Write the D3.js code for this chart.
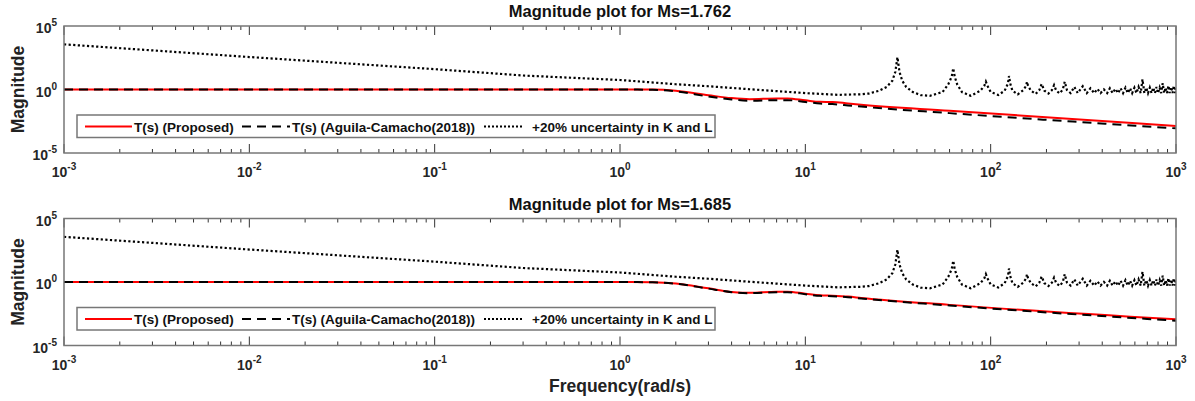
<!DOCTYPE html>
<html lang="en">
<head>
<meta charset="utf-8">
<title>Magnitude plots</title>
<script src="https://d3js.org/d3.v7.min.js"></script>
<style>
    body{
        margin: 0;
        background: #fff;
    }
    text{
        font-family: "Liberation Sans", Arial, sans-serif;
        font-weight: bold;
        fill: #262626;
    }
    .tick-label{
        font-size: 14px;
    }
    .tick-label tspan.sup{
        font-size: 10px;
    }
    .title{
        font-size: 16.5px;
        fill: #111;
    }
    .axis-title{
        font-size: 17.5px;
        fill: #222;
    }
    .legend text{
        font-size: 13.5px;
        fill: #111;
    }
</style>
</head>
<body>
<div id="chart"></div>
<script>

// frequency ticks and magnitude ticks
var xTicks = [1e-3, 1e-2, 1e-1, 1, 10, 100, 1000]
var yTicks = [1e-5, 1, 1e5]

// +20% uncertainty response (same shape)
var uncFreq = [0.001, 0.01, 0.1, 0.3, 1, 2, 3, 5, 10, 15, 20, 22, 25, 27.5, 29.5, 30.6, 31.4, 32.2, 33.3, 35, 38, 42, 47,
    55, 59, 61.6, 62.8, 64, 66, 70, 78, 88, 92.5, 94.2, 96, 100, 110, 119, 124, 125.6, 127.5, 131, 140, 150, 155.5, 157, 159, 165, 175,
    183, 188.4, 195, 205, 214, 219.8, 226, 236, 245, 251, 258, 270, 282.6, 295, 314, 330, 345.4, 362, 376.8, 392,
    408.2, 425, 439.6, 455, 471, 487, 502.4, 518, 533.8, 550, 565.2, 580, 596.6, 612, 628, 645, 659.4, 675,
    690.8, 706, 722.2, 738, 753.6, 770, 785, 800, 816.4, 832, 847.8, 863, 879.2, 895, 910.6, 925, 942, 958, 973.4, 990, 1000]
var uncMag = [3600, 360, 40, 12.6, 5.6, 2.6, 1.8, 1.05, 0.52, 0.38, 0.42, 0.48, 0.8, 1.6, 5, 25, 350, 25, 5, 1.6, 0.63, 0.36, 0.32,
    0.63, 2.5, 10, 47, 10, 2.5, 0.63, 0.32, 0.8, 2, 4.1, 2, 0.63, 0.37, 0.8, 3, 11.5, 3, 0.8, 0.42, 0.9, 2, 4.1, 2, 0.8, 0.45,
    0.9, 2.7, 0.8, 0.48, 0.9, 2.2, 0.8, 0.5, 1.0, 4.1, 0.9, 0.52, 1.6, 0.52, 1.8, 0.52, 1.26, 0.52, 1.12, 0.52,
    1.0, 0.52, 1.26, 0.52, 1.12, 0.52, 1.26, 0.52, 1.4, 0.52, 1.26, 0.52, 1.4, 0.52, 1.6, 0.52, 6.3, 0.52,
    1.4, 0.52, 1.4, 0.52, 1.4, 0.52, 1.6, 0.52, 1.4, 0.52, 3.1, 0.52, 1.4, 0.52, 2, 0.52, 1.6, 0.52, 2, 0.52, 1.8]

// T(s) responses
var tFreq = [0.001, 1, 1.5, 2, 3, 4, 5, 7, 8, 10, 12, 14, 17, 20, 60, 1000]
var propTop = [1, 1, 0.98, 0.79, 0.355, 0.21, 0.174, 0.2, 0.2, 0.141, 0.107, 0.105, 0.079, 0.063, 0.0214, 0.00135]
var aguilaTop = [1, 1, 0.955, 0.72, 0.28, 0.166, 0.132, 0.145, 0.145, 0.105, 0.079, 0.071, 0.056, 0.045, 0.0138, 0.00087]
var propBottom = [1, 1, 0.955, 0.76, 0.316, 0.166, 0.141, 0.174, 0.174, 0.12, 0.089, 0.083, 0.071, 0.056, 0.0158, 0.00115]
var aguilaBottom = [1, 1, 0.955, 0.74, 0.302, 0.158, 0.132, 0.158, 0.158, 0.11, 0.081, 0.076, 0.063, 0.05, 0.0141, 0.00089]

var panels = [
    {title: "Magnitude plot for Ms=1.762", top: 26, prop: propTop, aguila: aguilaTop},
    {title: "Magnitude plot for Ms=1.685", top: 218.5, prop: propBottom, aguila: aguilaBottom}
]

var legendItems = [
    {label: "T(s) (Proposed)", color: "#ff0000", dash: null, x1: 85, x2: 132},
    {label: "T(s) (Aguila-Camacho(2018))", color: "#000", dash: "9,6", x1: 242, x2: 290},
    {label: "+20% uncertainty in K and L", color: "#000", dash: "2,2", x1: 484, x2: 522}
]

var width = 1195
var height = 401
var left = 64, right = 1176, plotH = 127

var svg = d3.select("#chart")
  .append("svg")
    .attr("width", width)
    .attr("height", height)

var x = d3.scaleLog().domain([1e-3, 1e3]).range([left, right])

function zip(f, m){
    return f.map((d, i) => ({f: d, m: m[i]}))
}

panels.forEach(function(p, pi){
    var y = d3.scaleLog().domain([1e-5, 1e5]).range([p.top + plotH, p.top])
    var g = svg.append("g")

    g.append("clipPath").attr("id", "clip" + pi)
      .append("rect")
        .attr("x", left).attr("y", p.top)
        .attr("width", right - left).attr("height", plotH)

    // background box
    g.append("rect")
        .attr("x", left).attr("y", p.top)
        .attr("width", right - left).attr("height", plotH)
        .attr("fill", "#fff")

    var line = d3.line().x(d => x(d.f)).y(d => y(d.m))
    var smooth = d3.line().x(d => x(d.f)).y(d => y(d.m)).curve(d3.curveMonotoneX)

    var lines = g.append("g").attr("clip-path", "url(#clip" + pi + ")")

    lines.append("path")
        .datum(zip(uncFreq, uncMag))
        .attr("d", line)
        .attr("fill", "none")
        .attr("stroke", "#000")
        .attr("stroke-width", 2.2)
        .attr("stroke-dasharray", "2.2,2.4")

    lines.append("path")
        .datum(zip(tFreq, p.prop))
        .attr("d", smooth)
        .attr("fill", "none")
        .attr("stroke", "#ff0000")
        .attr("stroke-width", 2)

    lines.append("path")
        .datum(zip(tFreq, p.aguila))
        .attr("d", smooth)
        .attr("fill", "none")
        .attr("stroke", "#000")
        .attr("stroke-width", 2)
        .attr("stroke-dasharray", "9,6")

    // minor and major x ticks, top and bottom edges
    var minor = []
    xTicks.slice(0, -1).forEach(t => { for (var k = 2; k < 10; k++) minor.push(t * k) })
    var ticks = g.append("g").attr("stroke", "#333").attr("stroke-width", 1)
    minor.forEach(function(t){
        ticks.append("line").attr("x1", x(t)).attr("x2", x(t)).attr("y1", p.top).attr("y2", p.top + 4)
        ticks.append("line").attr("x1", x(t)).attr("x2", x(t)).attr("y1", p.top + plotH).attr("y2", p.top + plotH - 4)
    })
    xTicks.forEach(function(t){
        ticks.append("line").attr("x1", x(t)).attr("x2", x(t)).attr("y1", p.top).attr("y2", p.top + 9)
        ticks.append("line").attr("x1", x(t)).attr("x2", x(t)).attr("y1", p.top + plotH).attr("y2", p.top + plotH - 9)
    })

    // axes box
    g.append("rect")
        .attr("x", left).attr("y", p.top)
        .attr("width", right - left).attr("height", plotH)
        .attr("fill", "none")
        .attr("stroke", "#777")
        .attr("stroke-width", 1.5)

    // x tick labels
    xTicks.forEach(function(t){
        var txt = g.append("text")
            .attr("class", "tick-label")
            .attr("x", x(t))
            .attr("y", p.top + plotH + 24)
            .attr("text-anchor", "middle")
        txt.append("tspan").text("10")
        txt.append("tspan").attr("class", "sup").attr("dy", -7).text(Math.round(Math.log10(t)))
    })

    // y tick labels
    yTicks.forEach(function(t){
        var txt = g.append("text")
            .attr("class", "tick-label")
            .attr("x", left - 7)
            .attr("y", y(t) + 7)
            .attr("text-anchor", "end")
        txt.append("tspan").text("10")
        txt.append("tspan").attr("class", "sup").attr("dy", -7).text(Math.round(Math.log10(t)))
    })

    g.append("text")
        .attr("class", "title")
        .attr("x", (left + right) / 2)
        .attr("y", p.top - 9)
        .attr("text-anchor", "middle")
        .text(p.title)

    g.append("text")
        .attr("class", "axis-title")
        .attr("transform", "translate(24," + (p.top + plotH / 2) + ") rotate(-90)")
        .attr("text-anchor", "middle")
        .text("Magnitude")

    // legend
    var lg = g.append("g").attr("class", "legend")
    var ly = p.top + 89
    lg.append("rect")
        .attr("x", 77).attr("y", ly)
        .attr("width", 638).attr("height", 22.5)
        .attr("fill", "#fff")
        .attr("stroke", "#777")
        .attr("stroke-width", 1.5)
    legendItems.forEach(function(it){
        lg.append("line")
            .attr("x1", it.x1).attr("x2", it.x2)
            .attr("y1", ly + 11.5).attr("y2", ly + 11.5)
            .attr("stroke", it.color)
            .attr("stroke-width", 2)
            .attr("stroke-dasharray", it.dash)
        lg.append("text")
            .attr("x", it.x2 + (it.dash === "2,2" ? 10 : 2))
            .attr("y", ly + 16.5)
            .text(it.label)
    })
})

svg.append("text")
    .attr("class", "axis-title")
    .attr("x", (left + right) / 2)
    .attr("y", 392)
    .attr("text-anchor", "middle")
    .text("Frequency(rad/s)")

</script>
</body>
</html>
